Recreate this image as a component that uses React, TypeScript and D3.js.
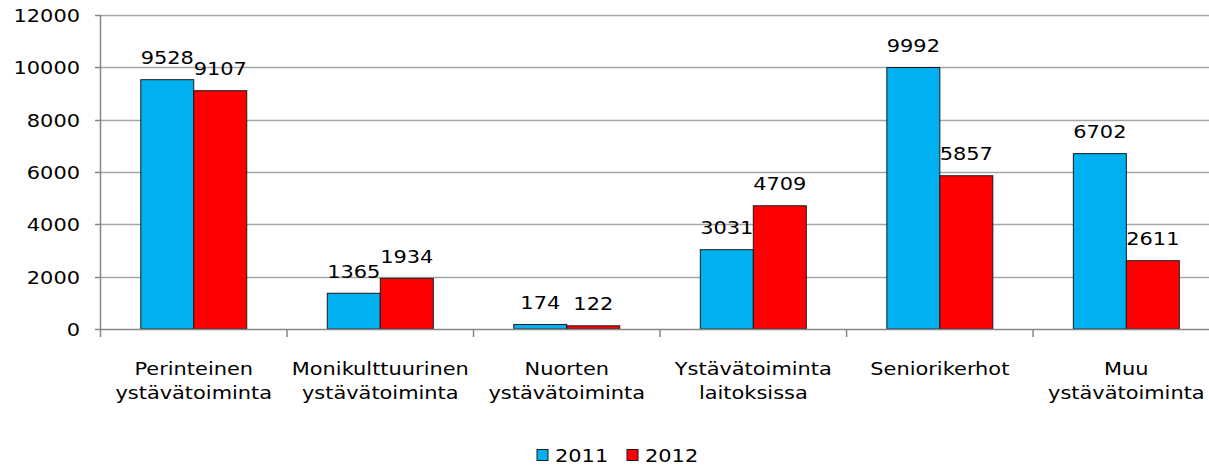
import React from "react";
import * as d3 from "d3";

const categories: string[][] = [
  ["Perinteinen", "ystävätoiminta"],
  ["Monikulttuurinen", "ystävätoiminta"],
  ["Nuorten", "ystävätoiminta"],
  ["Ystävätoiminta", "laitoksissa"],
  ["Seniorikerhot"],
  ["Muu", "ystävätoiminta"],
];
const seriesNames = ["2011", "2012"];
const values2011 = [9528, 1365, 174, 3031, 9992, 6702];
const values2012 = [9107, 1934, 122, 4709, 5857, 2611];
const yTicks = [0, 2000, 4000, 6000, 8000, 10000, 12000];
const colors = ["#00B0F0", "#FF0000"];

const W = 1209;
const H = 467;
const FONT = "'DejaVu Sans', Verdana, sans-serif";
const FS = 17;
const SX = 1.23;

export default function App() {
  const left = 100.5;
  const right = 1219.6;
  const y0 = 329;
  const yTop = 15;
  const x = d3
    .scaleBand<number>()
    .domain(categories.map((_, i) => i))
    .range([left, right])
    .paddingInner(0)
    .paddingOuter(0);
  const xs = d3
    .scaleBand<string>()
    .domain(seriesNames)
    .range([0, x.bandwidth()])
    .paddingInner(0)
    .paddingOuter(0.76);
  const y = d3.scaleLinear().domain([0, 12000]).range([y0, yTop]);
  const series = [values2011, values2012];

  const T = (
    key: string,
    tx: number,
    ty: number,
    s: string,
    anchor: "start" | "middle" | "end"
  ) => (
    <text
      key={key}
      transform={`translate(${tx},${ty}) scale(${SX},1)`}
      textAnchor={anchor}
      fontFamily={FONT}
      fontSize={FS}
      fill="#000"
    >
      {s}
    </text>
  );

  return (
    <svg
      width={W}
      height={H}
      style={{ position: "absolute", left: 0, top: 0, background: "#fff" }}
    >
      <rect x={0} y={0} width={W} height={H} fill="#fff" />
      {/* gridlines */}
      {yTicks.map((t) =>
        t === 0 ? null : (
          <line
            key={"g" + t}
            x1={left}
            x2={right}
            y1={Math.round(y(t)) + 0.5}
            y2={Math.round(y(t)) + 0.5}
            stroke="#A6A6A6"
            strokeWidth={1.5}
          />
        )
      )}
      {/* y tick marks */}
      {yTicks.map((t) => (
        <line
          key={"yt" + t}
          x1={95}
          x2={left}
          y1={Math.round(y(t)) + 0.5}
          y2={Math.round(y(t)) + 0.5}
          stroke="#868686"
          strokeWidth={1.5}
        />
      ))}
      {/* y tick labels */}
      {yTicks.map((t) => T("yl" + t, 80, y(t) + 7, String(t), "end"))}
      {/* bars */}
      {series.map((vals, si) =>
        vals.map((v, i) => {
          const bx = (x(i) as number) + (xs(seriesNames[si]) as number);
          return (
            <rect
              key={`b${si}-${i}`}
              x={bx}
              y={y(v)}
              width={xs.bandwidth()}
              height={y0 - y(v)}
              fill={colors[si]}
              stroke="#1a1a1a"
              strokeWidth={1}
            />
          );
        })
      )}
      {/* axes */}
      <line x1={left} x2={left} y1={yTop} y2={y0} stroke="#868686" strokeWidth={1.5} />
      <line x1={left} x2={right} y1={y0 + 0.5} y2={y0 + 0.5} stroke="#868686" strokeWidth={1.5} />
      {categories.map((_, i) => (
        <line
          key={"xt" + i}
          x1={(x(i) as number) + x.bandwidth()}
          x2={(x(i) as number) + x.bandwidth()}
          y1={y0}
          y2={y0 + 8}
          stroke="#868686"
          strokeWidth={1.5}
        />
      ))}
      <line x1={left} x2={left} y1={y0} y2={y0 + 8} stroke="#868686" strokeWidth={1.5} />
      {/* data labels */}
      {series.map((vals, si) =>
        vals.map((v, i) => {
          const cx =
            (x(i) as number) + (xs(seriesNames[si]) as number) + xs.bandwidth() / 2;
          return T(`dl${si}-${i}`, cx, y(v) - 15.5, String(v), "middle");
        })
      )}
      {/* category labels */}
      {categories.map((lines, i) => {
        const cx = (x(i) as number) + x.bandwidth() / 2;
        return lines.map((l, li) => T(`cl${i}-${li}`, cx, 375 + li * 23.5, l, "middle"));
      })}
      {/* legend */}
      {seriesNames.map((s, si) => {
        const lx = 537 + si * 90;
        return (
          <g key={"lg" + s}>
            <rect x={lx} y={449.5} width={11} height={11} fill={colors[si]} stroke="#1a1a1a" strokeWidth={1} />
            {T("lt" + s, lx + 18, 462, s, "start")}
          </g>
        );
      })}
    </svg>
  );
}
